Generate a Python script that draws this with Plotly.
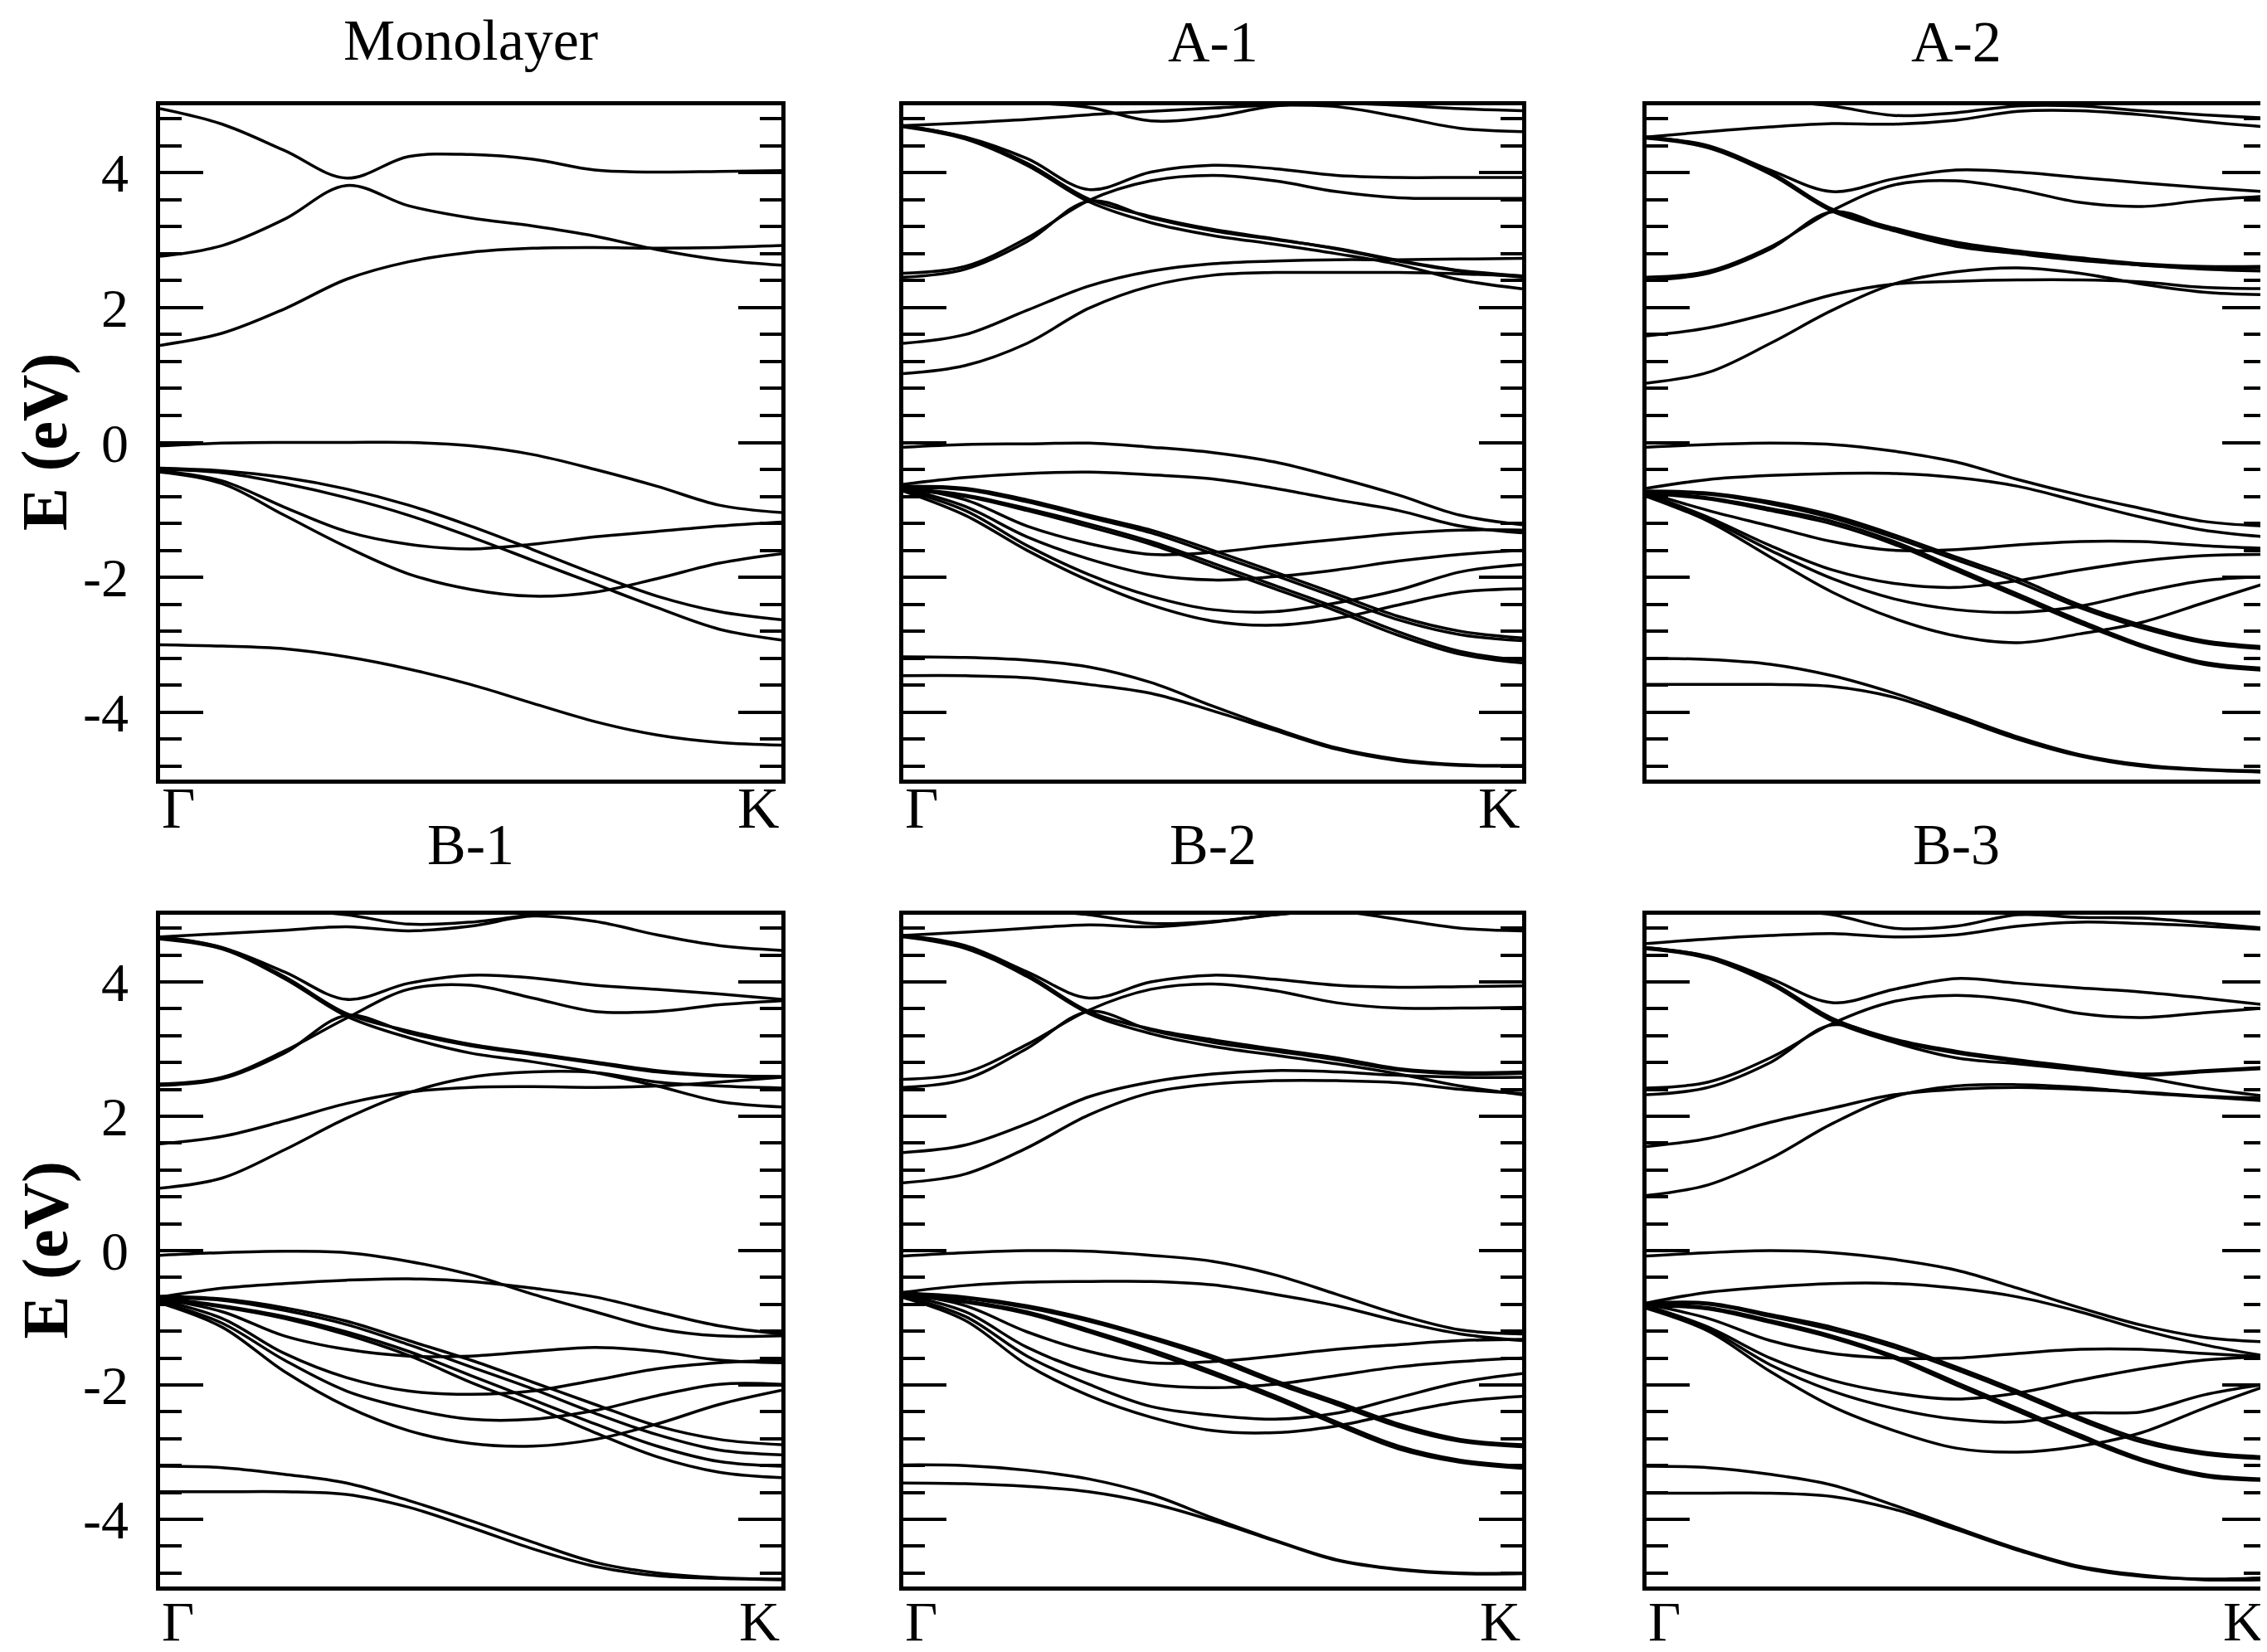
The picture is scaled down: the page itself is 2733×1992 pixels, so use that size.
# Band structures: monolayer and bilayer stackings

import plotly.graph_objects as go
from plotly.subplots import make_subplots

# k-path samples from Gamma (0) to K (1)
k_pts = [0.0, 0.1, 0.2, 0.3, 0.4, 0.5, 0.6, 0.7, 0.8, 0.9, 1.0]

e_ticks = [-4, -2, 0, 2, 4]
e_tick_text = ["-4", "-2", "0", "2", "4"]

panel_titles = ["Monolayer", "A-1", "A-2", "B-1", "B-2", "B-3"]

mono_bands = [
    [4.95, 4.72, 4.33, 3.92, 4.24, 4.27, 4.20, 4.04, 4.01, 4.02, 4.03],
    [2.76, 2.92, 3.31, 3.81, 3.51, 3.33, 3.21, 3.06, 2.86, 2.71, 2.63],
    [1.44, 1.62, 1.98, 2.42, 2.68, 2.82, 2.88, 2.89, 2.88, 2.89, 2.92],
    [-0.05, -0.01, 0.0, 0.0, 0.0, -0.05, -0.18, -0.40, -0.65, -0.93, -1.04],
    [-0.38, -0.42, -0.52, -0.69, -0.93, -1.24, -1.59, -1.95, -2.28, -2.51, -2.63],
    [-0.40, -0.45, -0.61, -0.82, -1.08, -1.40, -1.75, -2.10, -2.45, -2.77, -2.93],
    [-0.42, -0.57, -0.96, -1.32, -1.51, -1.58, -1.51, -1.40, -1.32, -1.24, -1.18],
    [-0.44, -0.61, -1.08, -1.55, -1.95, -2.18, -2.28, -2.22, -2.02, -1.79, -1.65],
    [-3.00, -3.02, -3.06, -3.18, -3.36, -3.59, -3.87, -4.14, -4.34, -4.45, -4.49],
]

a1_bands = [
    [4.70, 4.74, 4.79, 4.86, 4.91, 4.96, 5.00, 4.98, 4.83, 4.66, 4.61],
    [5.30, 5.20, 5.05, 4.97, 4.77, 4.83, 4.99, 5.03, 5.00, 4.95, 4.92],
    [4.70, 4.53, 4.21, 3.75, 4.01, 4.11, 4.06, 3.96, 3.93, 3.93, 3.93],
    [2.51, 2.61, 3.03, 3.59, 3.88, 3.96, 3.88, 3.72, 3.63, 3.62, 3.62],
    [2.45, 2.57, 2.98, 3.58, 3.33, 3.14, 3.01, 2.88, 2.70, 2.55, 2.47],
    [4.70, 4.52, 4.14, 3.61, 3.35, 3.16, 3.02, 2.87, 2.69, 2.54, 2.45],
    [4.68, 4.50, 4.11, 3.57, 3.26, 3.07, 2.94, 2.80, 2.64, 2.41, 2.28],
    [1.47, 1.60, 1.96, 2.32, 2.54, 2.65, 2.69, 2.71, 2.71, 2.72, 2.73],
    [1.02, 1.14, 1.47, 1.99, 2.32, 2.48, 2.52, 2.52, 2.52, 2.50, 2.47],
    [-0.07, -0.03, -0.02, -0.01, -0.07, -0.15, -0.29, -0.52, -0.78, -1.08, -1.22],
    [-0.62, -0.52, -0.46, -0.44, -0.48, -0.54, -0.68, -0.85, -1.01, -1.24, -1.34],
    [-0.65, -0.68, -0.85, -1.08, -1.30, -1.60, -1.92, -2.25, -2.58, -2.80, -2.90],
    [-0.67, -0.70, -0.88, -1.11, -1.34, -1.65, -1.97, -2.30, -2.63, -2.85, -2.94],
    [-0.68, -0.78, -0.98, -1.21, -1.47, -1.79, -2.12, -2.45, -2.81, -3.10, -3.23],
    [-0.70, -0.80, -1.01, -1.25, -1.51, -1.84, -2.17, -2.50, -2.86, -3.14, -3.27],
    [-0.66, -0.85, -1.24, -1.50, -1.66, -1.63, -1.53, -1.44, -1.35, -1.30, -1.30],
    [-0.68, -0.95, -1.40, -1.73, -1.96, -2.04, -1.99, -1.89, -1.76, -1.66, -1.60],
    [-0.70, -1.01, -1.53, -1.96, -2.28, -2.48, -2.51, -2.38, -2.19, -1.92, -1.81],
    [-0.72, -1.08, -1.60, -2.05, -2.41, -2.65, -2.71, -2.61, -2.41, -2.22, -2.17],
    [-3.18, -3.19, -3.23, -3.33, -3.56, -3.91, -4.24, -4.53, -4.70, -4.78, -4.79],
    [-3.46, -3.46, -3.49, -3.59, -3.72, -3.98, -4.27, -4.55, -4.72, -4.79, -4.80],
]

a2_bands = [
    [4.53, 4.61, 4.68, 4.73, 4.72, 4.78, 4.91, 4.92, 4.86, 4.76, 4.68],
    [5.30, 5.20, 5.08, 4.99, 4.85, 4.89, 4.99, 4.99, 4.92, 4.86, 4.81],
    [4.53, 4.40, 4.04, 3.72, 3.91, 4.04, 4.01, 3.93, 3.85, 3.78, 3.72],
    [2.45, 2.54, 2.90, 3.44, 3.82, 3.88, 3.75, 3.56, 3.50, 3.59, 3.65],
    [2.41, 2.51, 2.87, 3.42, 3.15, 2.95, 2.82, 2.72, 2.63, 2.59, 2.59],
    [4.53, 4.39, 4.01, 3.46, 3.18, 2.97, 2.84, 2.74, 2.65, 2.61, 2.61],
    [4.51, 4.37, 3.98, 3.43, 3.14, 2.91, 2.80, 2.70, 2.63, 2.57, 2.54],
    [1.58, 1.70, 1.92, 2.19, 2.35, 2.39, 2.41, 2.41, 2.38, 2.30, 2.28],
    [0.88, 1.04, 1.47, 1.96, 2.35, 2.53, 2.59, 2.51, 2.35, 2.23, 2.19],
    [-0.07, -0.03, -0.01, -0.03, -0.13, -0.29, -0.55, -0.78, -0.98, -1.17, -1.24],
    [-0.68, -0.55, -0.49, -0.46, -0.46, -0.52, -0.65, -0.88, -1.11, -1.30, -1.40],
    [-0.72, -0.75, -0.88, -1.08, -1.37, -1.70, -2.02, -2.41, -2.71, -2.94, -3.03],
    [-0.74, -0.77, -0.91, -1.12, -1.41, -1.74, -2.07, -2.45, -2.75, -2.97, -3.06],
    [-0.74, -0.82, -0.98, -1.17, -1.47, -1.86, -2.25, -2.64, -3.00, -3.26, -3.35],
    [-0.76, -0.84, -1.01, -1.21, -1.51, -1.90, -2.29, -2.68, -3.03, -3.29, -3.38],
    [-0.74, -1.01, -1.24, -1.47, -1.60, -1.59, -1.52, -1.47, -1.47, -1.53, -1.57],
    [-0.76, -1.11, -1.53, -1.89, -2.09, -2.15, -2.05, -1.89, -1.76, -1.68, -1.66],
    [-0.78, -1.14, -1.60, -2.02, -2.32, -2.48, -2.52, -2.43, -2.22, -2.05, -1.99],
    [-0.80, -1.17, -1.70, -2.22, -2.61, -2.87, -2.97, -2.84, -2.67, -2.38, -2.09],
    [-3.20, -3.22, -3.29, -3.46, -3.72, -4.04, -4.37, -4.63, -4.78, -4.85, -4.87],
    [-3.59, -3.59, -3.59, -3.62, -3.78, -4.08, -4.40, -4.65, -4.80, -4.86, -4.89],
]

b1_bands = [
    [4.67, 4.72, 4.77, 4.82, 4.76, 4.83, 4.98, 4.90, 4.70, 4.54, 4.47],
    [5.30, 5.20, 5.08, 5.00, 4.86, 4.89, 5.00, 5.08, 5.15, 5.20, 5.20],
    [4.67, 4.51, 4.15, 3.74, 3.98, 4.10, 4.06, 3.95, 3.89, 3.82, 3.74],
    [2.48, 2.58, 2.97, 3.46, 3.89, 3.95, 3.76, 3.56, 3.56, 3.66, 3.72],
    [2.46, 2.56, 2.94, 3.50, 3.24, 3.05, 2.92, 2.79, 2.66, 2.60, 2.59],
    [4.67, 4.51, 4.08, 3.53, 3.27, 3.07, 2.94, 2.81, 2.68, 2.61, 2.59],
    [4.64, 4.49, 4.05, 3.49, 3.17, 2.94, 2.81, 2.65, 2.45, 2.22, 2.14],
    [1.59, 1.70, 1.93, 2.19, 2.36, 2.43, 2.44, 2.43, 2.45, 2.51, 2.58],
    [0.93, 1.08, 1.50, 1.97, 2.35, 2.58, 2.66, 2.65, 2.51, 2.45, 2.42],
    [-0.07, -0.03, -0.01, -0.03, -0.16, -0.36, -0.65, -0.91, -1.16, -1.27, -1.27],
    [-0.69, -0.56, -0.49, -0.44, -0.42, -0.46, -0.56, -0.69, -0.91, -1.12, -1.24],
    [-0.68, -0.72, -0.85, -1.05, -1.34, -1.63, -1.96, -2.29, -2.61, -2.81, -2.89],
    [-0.70, -0.74, -0.89, -1.10, -1.40, -1.73, -2.06, -2.42, -2.74, -2.97, -3.04],
    [-0.70, -0.82, -0.98, -1.21, -1.50, -1.86, -2.22, -2.58, -2.91, -3.14, -3.21],
    [-0.72, -0.84, -1.01, -1.25, -1.56, -1.96, -2.32, -2.71, -3.07, -3.30, -3.38],
    [-0.72, -0.91, -1.27, -1.47, -1.57, -1.57, -1.50, -1.44, -1.50, -1.63, -1.67],
    [-0.74, -1.01, -1.53, -1.89, -2.09, -2.14, -2.09, -1.93, -1.76, -1.67, -1.63],
    [-0.76, -1.08, -1.63, -2.09, -2.35, -2.51, -2.51, -2.38, -2.16, -1.99, -1.99],
    [-0.78, -1.14, -1.80, -2.32, -2.68, -2.87, -2.91, -2.81, -2.58, -2.29, -2.08],
    [-3.21, -3.23, -3.33, -3.46, -3.72, -4.02, -4.34, -4.64, -4.80, -4.87, -4.89],
    [-3.59, -3.59, -3.59, -3.63, -3.82, -4.12, -4.44, -4.70, -4.84, -4.88, -4.90],
]

b2_bands = [
    [4.69, 4.74, 4.80, 4.85, 4.82, 4.89, 5.00, 5.05, 4.93, 4.80, 4.76],
    [5.30, 5.20, 5.08, 5.00, 4.87, 4.90, 5.00, 5.08, 5.15, 5.20, 5.20],
    [4.69, 4.54, 4.15, 3.76, 4.00, 4.10, 4.04, 3.95, 3.92, 3.93, 3.94],
    [2.55, 2.65, 3.07, 3.58, 3.89, 3.97, 3.87, 3.69, 3.61, 3.61, 3.62],
    [2.43, 2.55, 3.01, 3.56, 3.28, 3.10, 2.97, 2.84, 2.69, 2.63, 2.64],
    [4.69, 4.52, 4.11, 3.56, 3.30, 3.14, 3.00, 2.87, 2.71, 2.65, 2.66],
    [4.67, 4.50, 4.08, 3.53, 3.23, 3.04, 2.91, 2.78, 2.63, 2.45, 2.32],
    [1.46, 1.57, 1.89, 2.29, 2.51, 2.63, 2.68, 2.66, 2.61, 2.58, 2.58],
    [1.01, 1.14, 1.53, 2.02, 2.35, 2.48, 2.53, 2.53, 2.50, 2.40, 2.34],
    [-0.08, -0.03, 0.00, -0.01, -0.07, -0.16, -0.36, -0.65, -0.95, -1.18, -1.24],
    [-0.62, -0.52, -0.47, -0.46, -0.46, -0.51, -0.65, -0.82, -1.05, -1.24, -1.34],
    [-0.63, -0.69, -0.82, -1.02, -1.28, -1.57, -1.93, -2.25, -2.58, -2.81, -2.89],
    [-0.65, -0.71, -0.85, -1.05, -1.31, -1.61, -1.97, -2.29, -2.62, -2.84, -2.92],
    [-0.65, -0.75, -0.91, -1.18, -1.47, -1.80, -2.16, -2.55, -2.91, -3.12, -3.21],
    [-0.67, -0.77, -0.94, -1.21, -1.51, -1.84, -2.20, -2.59, -2.95, -3.15, -3.24],
    [-0.64, -0.82, -1.21, -1.50, -1.67, -1.65, -1.57, -1.47, -1.40, -1.34, -1.32],
    [-0.66, -0.91, -1.44, -1.80, -1.99, -2.04, -1.99, -1.86, -1.73, -1.65, -1.60],
    [-0.68, -0.98, -1.57, -1.99, -2.32, -2.45, -2.51, -2.42, -2.19, -1.96, -1.83],
    [-0.70, -1.04, -1.70, -2.16, -2.48, -2.68, -2.71, -2.61, -2.42, -2.25, -2.17],
    [-3.19, -3.20, -3.27, -3.40, -3.63, -3.98, -4.31, -4.60, -4.74, -4.80, -4.80],
    [-3.46, -3.47, -3.51, -3.59, -3.76, -4.02, -4.32, -4.61, -4.75, -4.81, -4.81],
]

b3_bands = [
    [4.57, 4.64, 4.69, 4.72, 4.67, 4.70, 4.83, 4.89, 4.87, 4.83, 4.78],
    [5.30, 5.20, 5.08, 5.00, 4.80, 4.83, 5.00, 4.96, 4.95, 4.88, 4.80],
    [4.51, 4.38, 4.05, 3.69, 3.89, 4.05, 3.98, 3.91, 3.85, 3.76, 3.66],
    [2.42, 2.51, 2.87, 3.38, 3.71, 3.80, 3.72, 3.53, 3.47, 3.54, 3.61],
    [2.32, 2.43, 2.80, 3.36, 3.12, 2.94, 2.82, 2.71, 2.61, 2.66, 2.71],
    [4.51, 4.37, 4.00, 3.46, 3.15, 2.97, 2.84, 2.73, 2.63, 2.68, 2.73],
    [4.49, 4.35, 3.97, 3.42, 3.10, 2.87, 2.78, 2.69, 2.58, 2.42, 2.30],
    [1.55, 1.67, 1.91, 2.12, 2.32, 2.40, 2.43, 2.40, 2.36, 2.30, 2.27],
    [0.82, 0.98, 1.37, 1.89, 2.29, 2.45, 2.47, 2.43, 2.35, 2.29, 2.23],
    [-0.08, -0.03, 0.00, -0.03, -0.13, -0.29, -0.56, -0.85, -1.11, -1.29, -1.36],
    [-0.78, -0.62, -0.54, -0.49, -0.49, -0.56, -0.69, -0.91, -1.18, -1.40, -1.57],
    [-0.78, -0.78, -0.95, -1.14, -1.40, -1.73, -2.09, -2.48, -2.81, -3.00, -3.07],
    [-0.80, -0.80, -0.98, -1.18, -1.44, -1.77, -2.13, -2.52, -2.85, -3.03, -3.10],
    [-0.80, -0.85, -1.04, -1.27, -1.57, -1.96, -2.35, -2.74, -3.10, -3.33, -3.40],
    [-0.82, -0.87, -1.07, -1.30, -1.60, -2.00, -2.39, -2.78, -3.13, -3.36, -3.42],
    [-0.80, -1.01, -1.34, -1.53, -1.60, -1.60, -1.53, -1.47, -1.47, -1.53, -1.58],
    [-0.82, -1.14, -1.60, -1.93, -2.12, -2.21, -2.12, -1.93, -1.76, -1.63, -1.58],
    [-0.84, -1.17, -1.70, -2.09, -2.35, -2.51, -2.55, -2.42, -2.40, -2.15, -1.99],
    [-0.86, -1.20, -1.80, -2.32, -2.68, -2.94, -3.00, -2.91, -2.71, -2.35, -2.02],
    [-3.21, -3.23, -3.33, -3.49, -3.79, -4.12, -4.44, -4.70, -4.83, -4.90, -4.90],
    [-3.61, -3.61, -3.61, -3.66, -3.85, -4.15, -4.46, -4.72, -4.85, -4.89, -4.87],
]

W, H = 2733, 1992
FONT = "Liberation Serif, Times New Roman, Times, serif"

# pixel boxes of the six frames
col_px = [(185, 934), (1081, 1827), (1977, 2723)]
row_px = [(119, 932), (1095, 1905)]

panels = [
    (mono_bands, 1, 1, True),
    (a1_bands, 1, 2, True),
    (a2_bands, 1, 3, False),
    (b1_bands, 2, 1, True),
    (b2_bands, 2, 2, True),
    (b3_bands, 2, 3, True),
]

fig = make_subplots(rows=2, cols=3)

for bands, r, c, _ in panels:
    for e in bands:
        fig.add_trace(go.Scatter(x=k_pts, y=e, mode="lines",
                                 line=dict(color="black", width=3.5, shape="spline", smoothing=1.0),
                                 showlegend=False, hoverinfo="skip"), row=r, col=c)

for r in (1, 2):
    for c in (1, 2, 3):
        x0, x1 = col_px[c - 1]
        y0, y1 = row_px[r - 1]
        fig.update_xaxes(domain=[x0 / W, x1 / W], range=[0, 1],
                         showline=True, linewidth=4.5, linecolor="black", mirror=True,
                         showgrid=False, zeroline=False, ticks="", showticklabels=False,
                         row=r, col=c)
        fig.update_yaxes(domain=[1 - y1 / H, 1 - y0 / H], range=[-5, 5],
                         showline=True, linewidth=4.5, linecolor="black", mirror="allticks",
                         showgrid=False, zeroline=False,
                         tickmode="array", tickvals=e_ticks, ticktext=e_tick_text,
                         ticks="inside", ticklen=52, tickwidth=3.5, tickcolor="black",
                         minor=dict(tickmode="linear", tick0=0, dtick=0.4, ticks="inside",
                                    ticklen=26, tickwidth=3.5, tickcolor="black", showgrid=False),
                         showticklabels=(c == 1), ticklabelstandoff=20,
                         tickfont=dict(family=FONT, size=66, color="black"),
                         row=r, col=c)

annotations = []
# (y in px, anchor) for each panel title
title_pos = [(0, "top"), (2, "top"), (2, "top"), (1010, "middle"), (1010, "middle"), (1010, "middle")]
for i, (bands, r, c, show_k) in enumerate(panels):
    x0, x1 = col_px[c - 1]
    ty, tanchor = title_pos[i]
    annotations.append(dict(text=panel_titles[i], x=(x0 + x1) / 2 / W, y=1 - ty / H,
                            xref="paper", yref="paper", xanchor="center", yanchor=tanchor,
                            showarrow=False, font=dict(family=FONT, size=70, color="black")))
    if show_k:
        if r == 1:
            ly, lanchor, ls = 966, "middle", 70
        else:
            ly, lanchor, ls = H - 5, "bottom", 68
        for lab, lx, xa in (("Γ", x0, "left"), ("K", x1, "right")):
            annotations.append(dict(text=lab, x=lx / W, y=1 - ly / H, xref="paper", yref="paper",
                                    xanchor=xa, yanchor=lanchor, showarrow=False,
                                    font=dict(family=FONT, size=ls, color="black")))

for r in (1, 2):
    y0, y1 = row_px[r - 1]
    annotations.append(dict(text="E (eV)", x=0, y=1 - (y0 + y1) / 2 / H,
                            xref="paper", yref="paper", xanchor="left", yanchor="middle",
                            textangle=-90, showarrow=False,
                            font=dict(family=FONT, size=78, color="black", weight="bold")))

fig.update_layout(width=W, height=H, autosize=False,
                  margin=dict(l=0, r=0, t=0, b=0),
                  paper_bgcolor="white", plot_bgcolor="white",
                  annotations=annotations)

fig.write_html("out.html")
